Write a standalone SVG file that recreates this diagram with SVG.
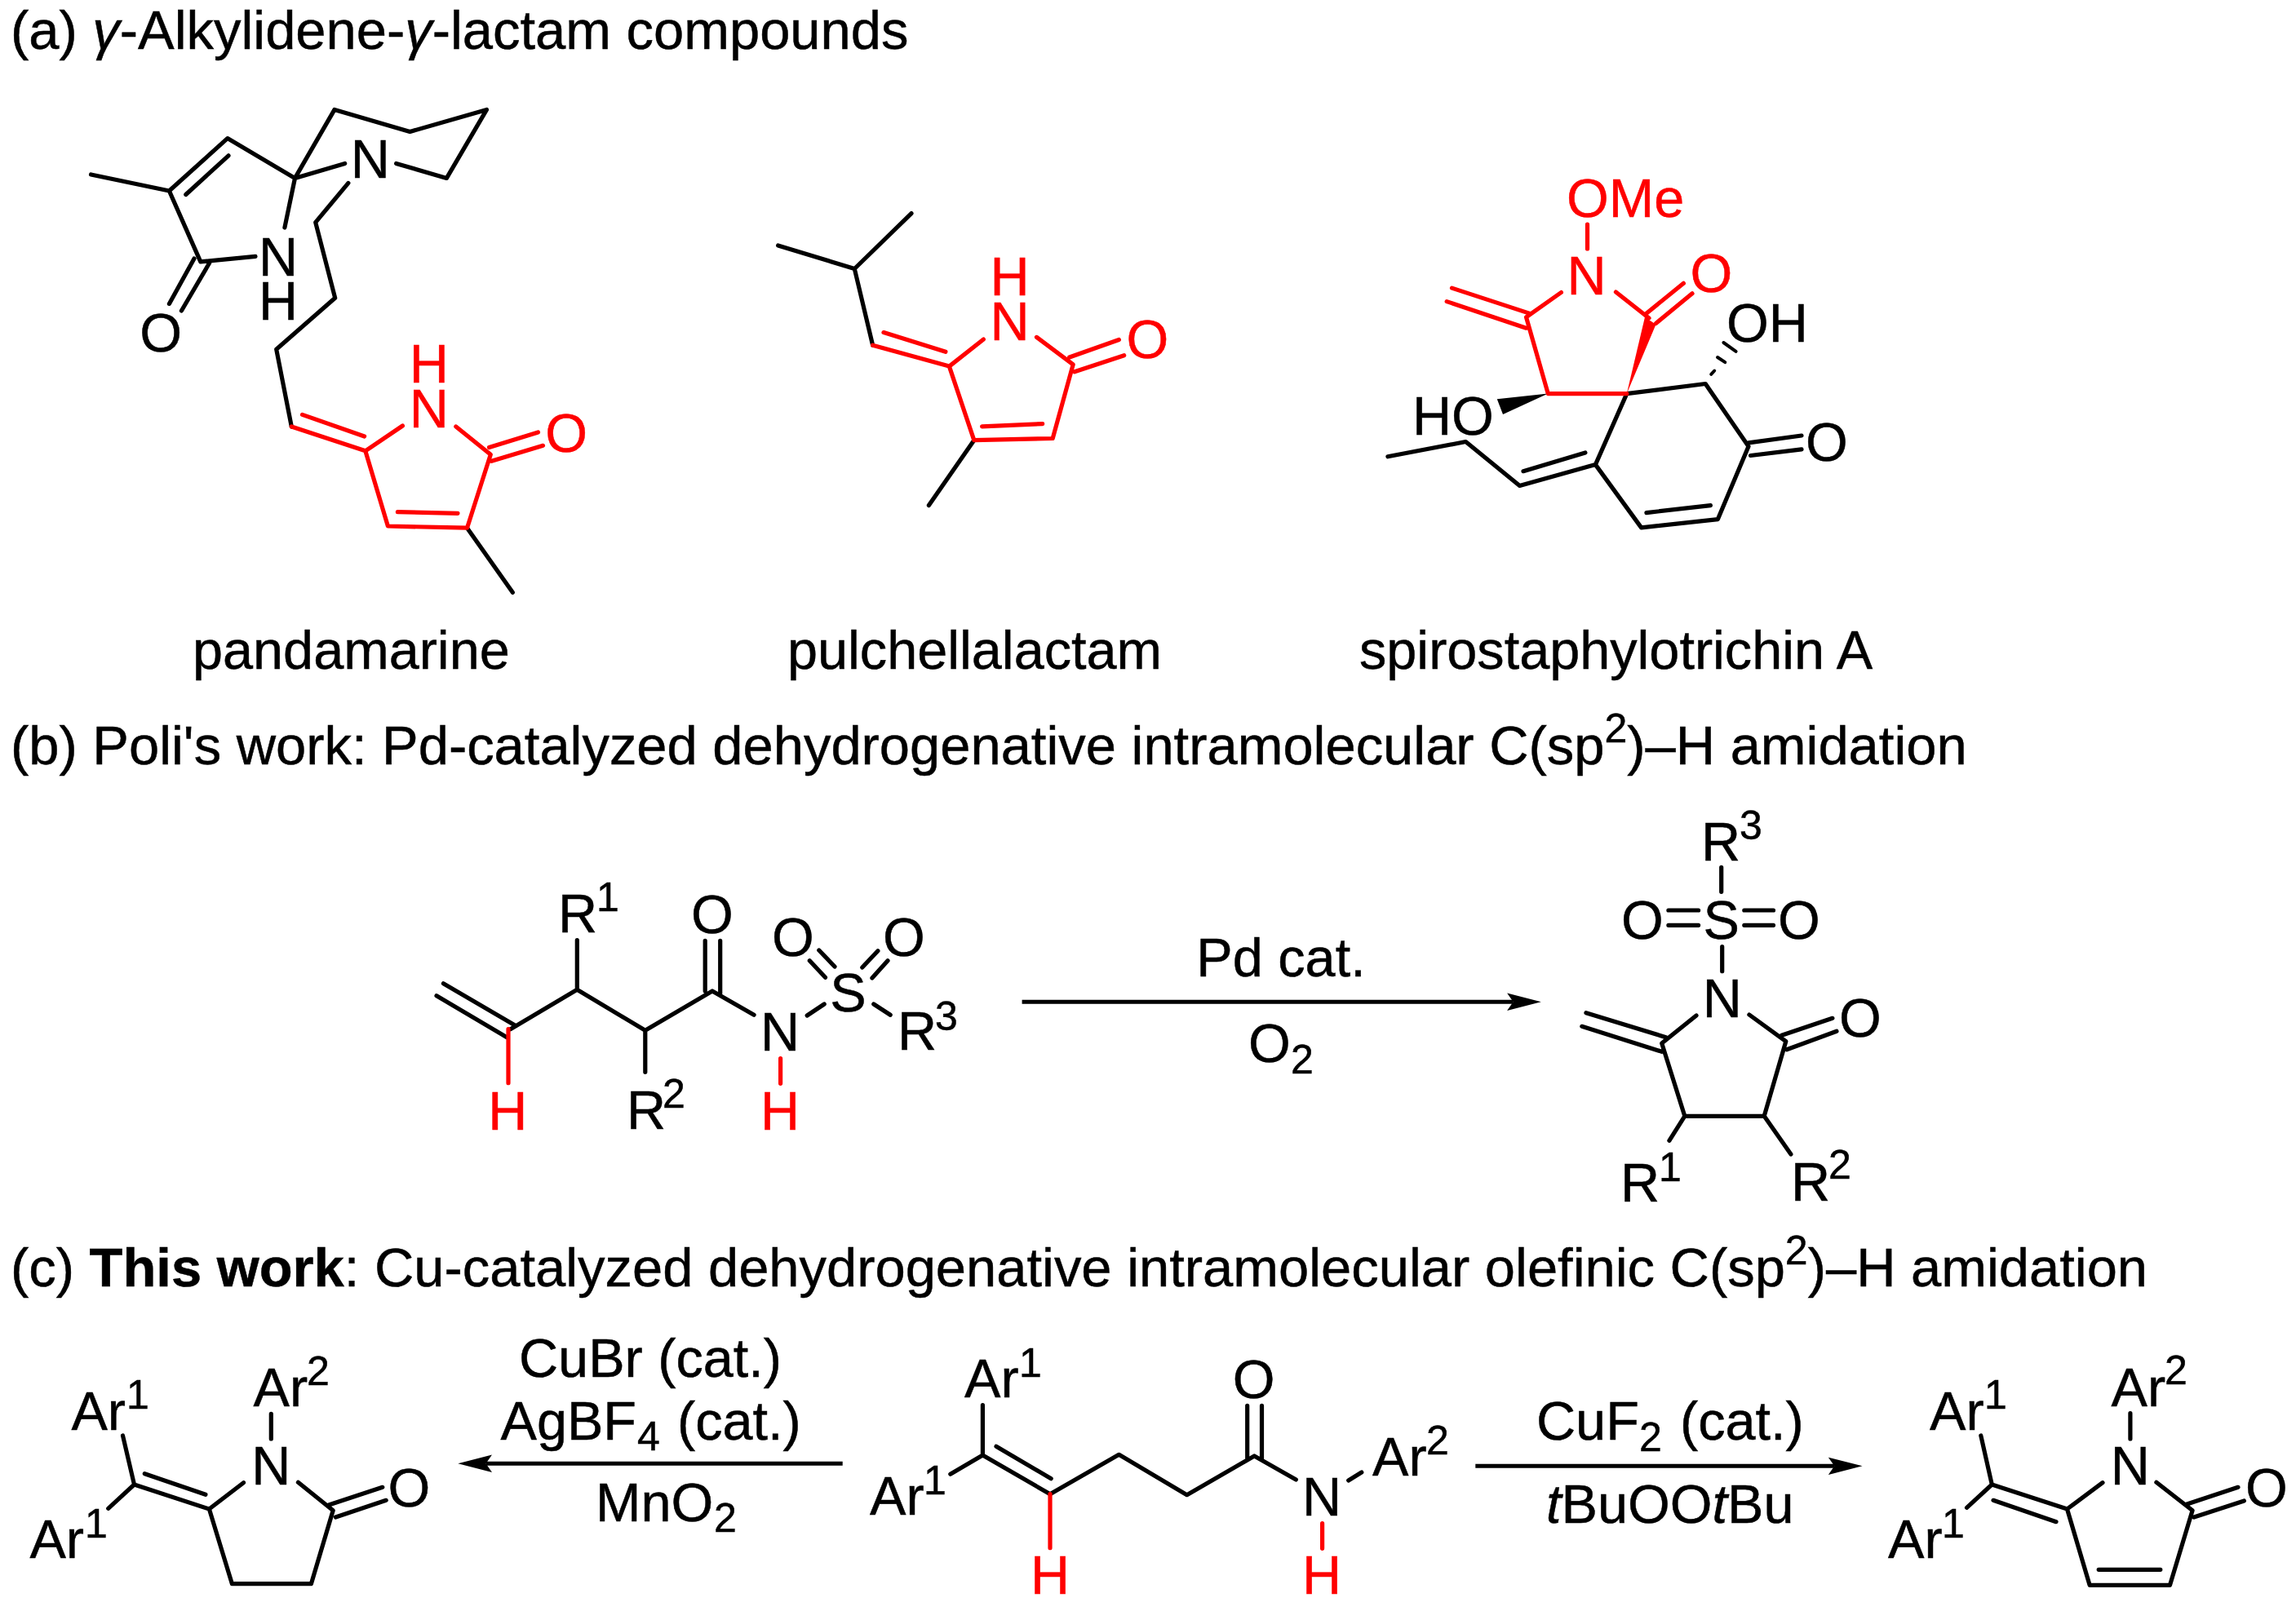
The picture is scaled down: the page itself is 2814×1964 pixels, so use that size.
<svg xmlns="http://www.w3.org/2000/svg" width="2814" height="1964" viewBox="0 0 2814 1964">
<style>
text{font-family:"Liberation Sans",Arial,sans-serif;font-size:66.6px;fill:#000;stroke:#000;stroke-width:.5}
.h{font-size:66.9px}
.a{text-anchor:middle}
.s{font-size:50px}
.r{fill:#f00;stroke:#f00}
.i{font-style:italic}
.b{fill:none;stroke:#000;stroke-width:5.2;stroke-linecap:round;stroke-linejoin:round}
.br{fill:none;stroke:#f00;stroke-width:5.2;stroke-linecap:round;stroke-linejoin:round}
.ar{fill:none;stroke:#000;stroke-width:5}
</style>
<defs>
<marker id="head" markerUnits="userSpaceOnUse" markerWidth="44" markerHeight="24" viewBox="0 -12 44 24" refX="7.5" refY="0" orient="auto"><path d="M0,-10.7L41.7,0L0,10.7L7.5,0Z" fill="#000"/></marker>
</defs>
<rect width="2814" height="1964" fill="#fff"/>

<g id="headings">
<text class="h" x="13" y="60">(a) <tspan class="i">γ</tspan>-Alkylidene-<tspan class="i">γ</tspan>-lactam compounds</text>
<text class="h" x="13" y="936.7">(b) Poli's work: Pd-catalyzed dehydrogenative intramolecular C(sp<tspan class="s" dy="-27">2</tspan><tspan dy="27">)–H amidation</tspan></text>
<text class="h" x="13" y="1576.7">(c) <tspan font-weight="bold">This work</tspan>: Cu-catalyzed dehydrogenative intramolecular olefinic C(sp<tspan class="s" dy="-27">2</tspan><tspan dy="27">)–H amidation</tspan></text>
</g>

<g id="connectors">
<path class="ar" d="M1252.6,1228.3H1854.6" marker-end="url(#head)"/>
<path class="ar" d="M1032.7,1794.3H595.5" marker-end="url(#head)"/>
<path class="ar" d="M1808.3,1797.3H2248.3" marker-end="url(#head)"/>
</g>

<g id="pandamarine">
<path class="b" d="M111.5,214L207.4,234L278.8,169.6L361.5,218.4L410,134.4L502.4,161.5L596.5,134.4L547.4,218.4L485.6,200.5M361.5,218.4L422.7,200.5M227.8,238.5L280,190.8M361.5,218.4L348.9,279M207.4,234L245.8,320.9L313,314.4M238,317L207.4,372.4M256.6,322.5L222.4,381M426.9,224.4L386.7,272.6L410.7,365.3L338.7,428.2L357.3,523M572.5,647.2L628.3,726.3"/>
<path class="br" d="M357.3,523L447.8,552.8L493.4,522M370.5,508.4L446.6,535M447.8,552.8L475.4,645L572.5,647.2L601.3,557.2L558.8,523M487.4,627.6L561,629.3M599.5,548.5L659.5,530M602.5,565.3L665.5,546.3"/>
<text class="a" x="453.8" y="217.6">N</text>
<text class="a" x="341" y="338">N</text>
<text class="a" x="341" y="392">H</text>
<text class="a" x="197.2" y="431">O</text>
<text class="a r" x="525.8" y="524.4">N</text>
<text class="a r" x="525.8" y="469">H</text>
<text class="a r" x="694.2" y="553.6">O</text>
<text x="236" y="820">pandamarine</text>
</g>

<g id="pulchellalactam">
<path class="b" d="M953.6,300.9L1047.3,329.5L1117,261.6M1047.3,329.5L1069.6,423.2M1193.8,539.7L1138.4,619.6"/>
<path class="br" d="M1069.6,423.2L1163.4,449.1L1205.4,416M1083,407.6L1158.9,431.3M1163.4,449.1L1193.8,539.7L1290.2,537.5L1315.2,446.9L1270.5,413.4M1203.6,522.8L1277.7,519.6M1310.7,438L1371.4,416.5M1317,455.8L1377.7,435.7"/>
<text class="a r" x="1237.5" y="417.4">N</text>
<text class="a r" x="1237.5" y="362">H</text>
<text class="a r" x="1406.3" y="439.2">O</text>
<text x="965" y="820">pulchellalactam</text>
</g>

<g id="spirostaphylotrichin">
<path class="b" d="M1993.8,482.6L2090.2,470.5L2143,547.3L2105.4,636.6L2011.6,646.9L1955.4,569.6L1993.8,482.6M2017.9,628.6L2096.4,619.6M2143,542.9L2208,534M2145.5,558.5L2208,550.9M1955.4,569.6L1862.5,595.5L1796.4,541.5L1700.9,559.8M1867,577.7L1942.9,554.9"/>
<path class="b" style="stroke-width:4" d="M2097.2,458.8L2101.2,454.5M2105,438L2114.3,444.2M2112.4,420L2127.6,430.8"/>
<path d="M1897.3,482.6L1834.8,489.3L1842,508Z" fill="#000"/>
<path class="br" d="M1945.5,275V304.9M1913.4,358.5L1870.5,388.8L1897.3,482.6H1993.8M1779.5,353.1L1875,384.4M1773.2,369.6L1870.5,402.2M1980.4,358L2021,390M2016,385.7L2063.4,347.3M2029.5,396.4L2074,359.8"/>
<path d="M1993.8,482.6L2016,388.8L2029.5,397.8Z" fill="#f00"/>
<text class="r" x="1920" y="266">OMe</text>
<text class="a r" x="1944.6" y="361">N</text>
<text class="a r" x="2097.3" y="358">O</text>
<text x="2116" y="419">OH</text>
<text x="1731" y="533">HO</text>
<text class="a" x="2239" y="565">O</text>
<text x="1666" y="820">spirostaphylotrichin A</text>
</g>

<g id="poli-substrate">
<path class="b" d="M543.4,1205.7L630.7,1256.7M535,1220.7L621.2,1271.7M625.6,1261.7L707.3,1213.3V1152.7M707.3,1213.3L790.8,1263.3V1314.3M790.8,1263.3L873,1215L924.1,1244.3M864.2,1153.3V1215M882.7,1153.3V1218M989.2,1245L1010.2,1231M1070.8,1231L1091.2,1244.3M1003.8,1165L1023,1185M992.3,1177.7L1011.5,1198.3M1075.9,1165.7L1056.8,1186M1088,1177.7L1068.9,1199"/>
<path class="br" d="M623,1261.7V1327.7M956.6,1297.7V1328.3"/>
<text x="684" y="1143">R</text><text class="s" x="731" y="1117">1</text>
<text x="768" y="1384">R</text><text class="s" x="812" y="1358">2</text>
<text x="1100" y="1287">R</text><text class="s" x="1146" y="1263">3</text>
<text class="a" x="873" y="1143.6">O</text>
<text class="a" x="972" y="1172">O</text>
<text class="a" x="1107.8" y="1172">O</text>
<text class="a" x="1039.5" y="1239.6">S</text>
<text class="a" x="956" y="1287.9">N</text>
<text class="a r" x="622.4" y="1384.6">H</text>
<text class="a r" x="956" y="1384.6">H</text>
</g>

<g id="poli-conditions">
<text class="a" x="1570" y="1197.3">Pd cat.</text>
<text x="1530" y="1301.7">O</text><text class="s" x="1582" y="1316">2</text>
</g>

<g id="poli-product">
<path class="b" d="M2109.7,1063.3V1093.3M2110.7,1160.7V1190.7M2044.9,1116H2081.6M2044.9,1134.3H2081.6M2137.8,1116H2173.5M2137.8,1134.3H2173.5M2079,1245L2036.7,1279L2064.8,1368.3H2162.2L2188.8,1276.7L2143.9,1244M1943.9,1241.7L2041.8,1271.7M1938.8,1258.3L2036.7,1289.3M2183.7,1269.3L2245.9,1248.3M2189.8,1286.7L2251,1264.3M2064.8,1368.3L2045.9,1398.3M2162.2,1368.3L2194.9,1415"/>
<text x="2085" y="1054.7">R</text><text class="s" x="2132" y="1028.7">3</text>
<text class="a" x="2012.8" y="1151.3">O</text>
<text class="a" x="2109.7" y="1151.3">S</text>
<text class="a" x="2205" y="1151.3">O</text>
<text class="a" x="2110.7" y="1246.9">N</text>
<text class="a" x="2280" y="1271.3">O</text>
<text x="1986" y="1473.3">R</text><text class="s" x="2033" y="1447.7">1</text>
<text x="2195" y="1471.7">R</text><text class="s" x="2241" y="1445">2</text>
</g>

<g id="lactam-left">
<path class="b" d="M332.3,1733.3V1764M298.5,1817.7L256.4,1850L164.5,1820L150.5,1760M164.5,1820L132.7,1849.3M177.3,1806.7L251.9,1832.3M256.4,1850L284.4,1941.7H381.4L408.2,1851.7L365.4,1817.3M403,1845L468.8,1823.3M411.4,1860L473.2,1839.3"/>
<text x="310.6" y="1724">Ar</text><text class="s" x="376" y="1698.3">2</text>
<text x="87.4" y="1752.7">Ar</text><text class="s" x="155" y="1726.7">1</text>
<text x="36.4" y="1910">Ar</text><text class="s" x="104" y="1885">1</text>
<text class="a" x="332.3" y="1820.3">N</text>
<text class="a" x="501.3" y="1846.9">O</text>
</g>

<g id="left-conditions">
<text x="636" y="1688.3">CuBr (cat.)</text>
<text x="613.5" y="1765">AgBF</text><text class="s" x="781" y="1778.3">4</text><text x="830" y="1765">(cat.)</text>
<text x="730" y="1865">MnO</text><text class="s" x="875" y="1878.3">2</text>
</g>

<g id="substrate">
<path class="b" d="M1204.4,1722.7V1784L1164.8,1807.3M1204.4,1784L1287,1831.7L1371.4,1783.3L1454.7,1832.7L1537.3,1785L1588.4,1814M1221,1773.3L1288.2,1812.7M1528.7,1723.3V1788M1546.5,1723.3V1790M1652.7,1815L1668.8,1805"/>
<path class="br" d="M1287,1831.7V1897.7M1620.6,1867.7V1898.3"/>
<text x="1182" y="1713.3">Ar</text><text class="s" x="1249" y="1688.3">1</text>
<text x="1066" y="1857.3">Ar</text><text class="s" x="1132" y="1831.7">1</text>
<text class="a" x="1536.7" y="1713.6">O</text>
<text class="a" x="1620" y="1857.9">N</text>
<text x="1682" y="1809.3">Ar</text><text class="s" x="1748" y="1783.3">2</text>
<text class="a r" x="1287" y="1953.6">H</text>
<text class="a r" x="1620" y="1953.6">H</text>
</g>

<g id="right-conditions">
<text x="1883" y="1765">CuF</text><text class="s" x="2009" y="1779">2</text><text x="2059" y="1765">(cat.)</text>
<text x="1895" y="1866.7"><tspan class="i">t</tspan>BuOO<tspan class="i">t</tspan>Bu</text>
</g>

<g id="lactam-right">
<path class="b" d="M2427.8,1760L2441.3,1820L2410.5,1848.3M2610.9,1732.7V1764M2577,1817.7L2533.5,1850L2441.3,1820M2443,1839.3L2520,1865.7M2533.5,1850L2561.1,1943.3H2659.5L2687.1,1851.7L2642.9,1817.3M2572.2,1924.3H2647.8M2679.7,1844.3L2743,1823.3M2689,1860L2750.4,1840"/>
<text x="2365" y="1752.7">Ar</text><text class="s" x="2432" y="1726.7">1</text>
<text x="2314" y="1910">Ar</text><text class="s" x="2380" y="1885">1</text>
<text x="2587.6" y="1724">Ar</text><text class="s" x="2653" y="1697.3">2</text>
<text class="a" x="2610.9" y="1820.3">N</text>
<text class="a" x="2778" y="1846.9">O</text>
</g>
</svg>
